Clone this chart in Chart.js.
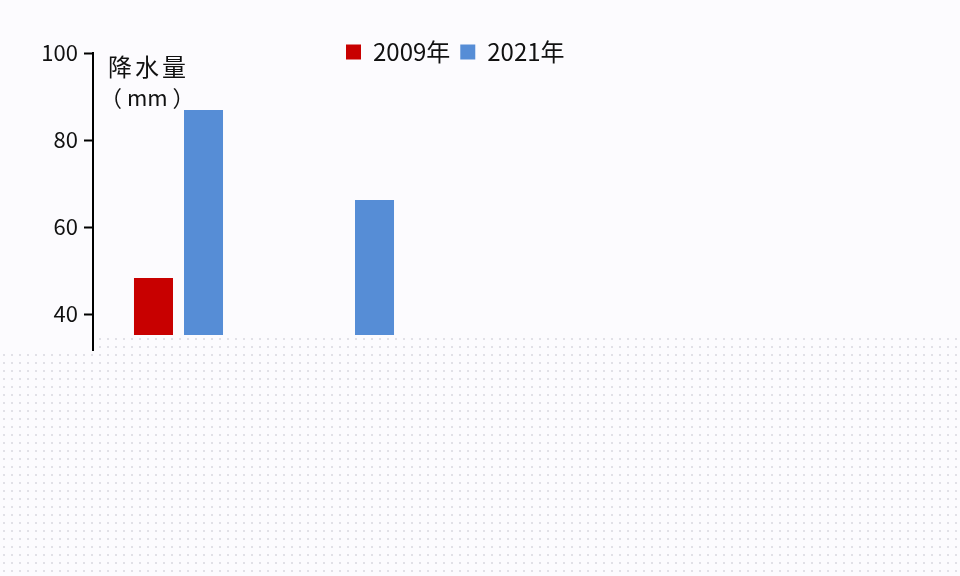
<!DOCTYPE html>
<html>
<head>
<meta charset="utf-8">
<script src="https://cdn.jsdelivr.net/npm/chart.js@4/dist/chart.umd.min.js"></script>
<style>
  body { margin: 0; background: #fcfbfe; }
  #wrap { position: relative; width: 960px; height: 576px; overflow: hidden; }
  .dots {
    position: absolute; bottom: 0;
    background-image: radial-gradient(circle, #e0dfe6 0.7px, transparent 1.1px);
    background-size: 8px 8px;
  }
  #dotsA { left: 96px; right: 0; top: 335px; }
  #dotsB { left: 0; width: 96px; top: 351px; }
  canvas { position: absolute; left: 0; top: 0; }
</style>
</head>
<body>
<div id="wrap">
  <div class="dots" id="dotsA"></div>
  <div class="dots" id="dotsB"></div>
  <canvas id="rainChart" width="960" height="576"></canvas>
</div>
<script>
// categories (x labels are not visible in the picture)
const categories = ['A', 'B'];
const rain2009 = [48.3, null];
const rain2021 = [86.9, 66.2];
const yTicks = [40, 60, 80, 100];
const yMin = 35.2;
const yMax = 100;

const fontFamily = '"Noto Sans CJK SC", "Noto Sans", sans-serif';

// draws y title, axis tail, and moves the legend next to the title
const extras = {
    id: 'extras',
    afterLayout(chart) {
        const l = chart.legend;
        const w = l.right - l.left, h = l.bottom - l.top;
        l.left = 336; l.right = l.left + w;
        l.top = 30; l.bottom = l.top + h;
    },
    afterDraw(chart) {
        const {ctx, chartArea} = chart;
        ctx.save();
        ctx.strokeStyle = '#000';
        ctx.lineWidth = 2;
        ctx.beginPath();
        ctx.moveTo(chartArea.left, chartArea.bottom);
        ctx.lineTo(chartArea.left, chartArea.bottom + 16);
        ctx.stroke();
        ctx.fillStyle = '#111';
        ctx.textBaseline = 'middle';
        ctx.font = '24px ' + fontFamily;
        ctx.letterSpacing = '3px';
        ctx.fillText('降水量', 108, 67);
        ctx.font = '22px ' + fontFamily;
        ctx.letterSpacing = '0px';
        ctx.fillText('（ mm ）', 100, 98);
        ctx.restore();
    }
};

const chart = new Chart(document.getElementById('rainChart').getContext('2d'), {
    type: 'bar',
    data: {
        labels: categories,
        datasets: [
            {
                label: '2009年',
                backgroundColor: '#c80000',
                data: rain2009
            },
            {
                label: '2021年',
                backgroundColor: '#568dd6',
                data: rain2021
            }
        ]
    },
    options: {
        responsive: false,
        animation: false,
        layout: { padding: { left: 0, right: 525, top: 9, bottom: 241 } },
        datasets: {
            bar: { categoryPercentage: 0.585, barPercentage: 0.78 }
        },
        plugins: {
            legend: {
                align: 'start',
                labels: {
                    boxWidth: 15,
                    boxHeight: 15,
                    padding: 10,
                    color: '#111',
                    font: { family: fontFamily, size: 24 }
                }
            },
            tooltip: { enabled: false }
        },
        scales: {
            x: { display: false },
            y: {
                min: yMin,
                max: yMax,
                afterBuildTicks: s => { s.ticks = yTicks.map(v => ({ value: v })); },
                afterFit: s => { s.width = 93; },
                border: { color: '#000', width: 2 },
                grid: {
                    drawOnChartArea: false,
                    color: '#000',
                    tickLength: 9,
                    tickWidth: 2
                },
                ticks: {
                    color: '#111',
                    padding: 6,
                    font: { family: fontFamily, size: 22 }
                }
            }
        }
    },
    plugins: [extras]
});
</script>
</body>
</html>
